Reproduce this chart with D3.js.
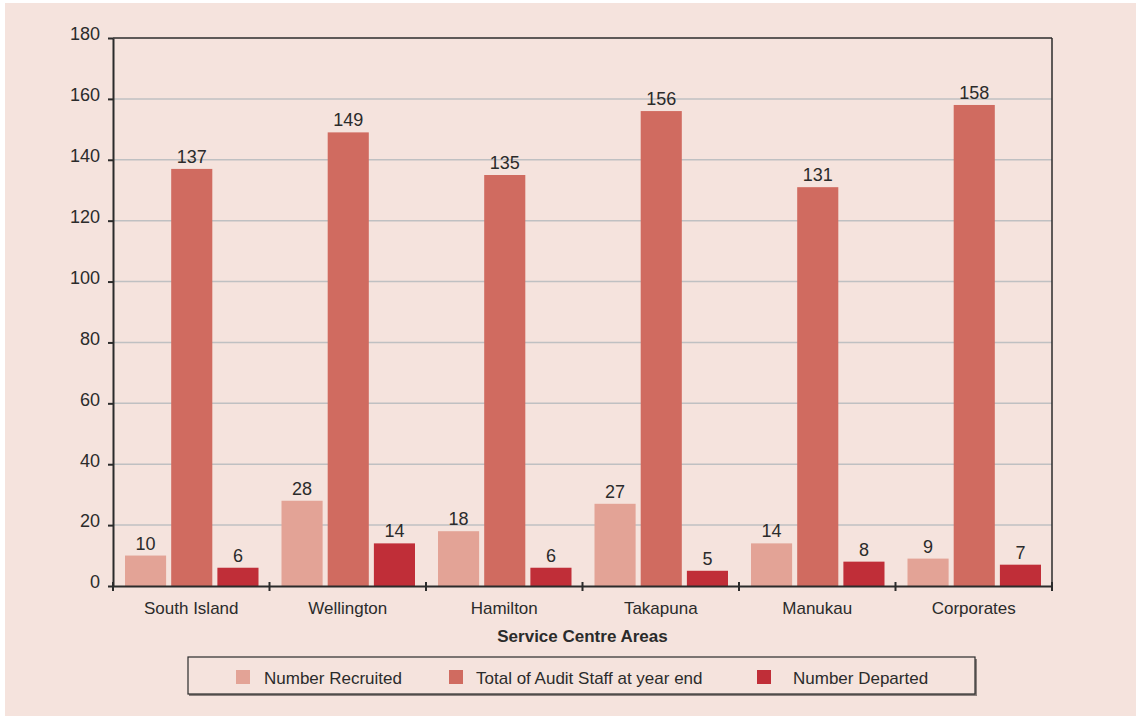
<!DOCTYPE html>
<html><head><meta charset="utf-8">
<script src="https://cdn.jsdelivr.net/npm/d3@7"></script>
<style>body{margin:0;background:#fff}svg{display:block}text{font-family:"Liberation Sans",Arial,sans-serif;fill:#2b2b2b}</style>
</head><body><svg id="c" width="1136" height="718"></svg>
<script>
const categories = ["South Island","Wellington","Hamilton","Takapuna","Manukau","Corporates"];
const seriesNames = ["Number Recruited","Total of Audit Staff at year end","Number Departed"];
const recruited = [10,28,18,27,14,9];
const totalStaff = [137,149,135,156,131,158];
const departed = [6,14,6,5,8,7];
const yTicks = [0,20,40,60,80,100,120,140,160,180];
const colors = ["#e3a396","#d06b60","#c02e38"];
const series = [recruited,totalStaff,departed];

const svg = d3.select("#c");
svg.append("rect").attr("x",5).attr("y",3).attr("width",1131).attr("height",713).attr("fill","#f5e3dd");

const L=113,R=1052,T=38,B=586;
const x = d3.scaleBand().domain(categories).range([L,R]).paddingInner(0).paddingOuter(0);
const xs = d3.scaleBand().domain(d3.range(3)).range([12,x.bandwidth()-11]).paddingInner(0.11);
const y = d3.scaleLinear().domain([0,180]).range([B,T]);

// grid
svg.append("g").selectAll("line").data(yTicks.filter(d=>d>0&&d<180)).join("line")
  .attr("x1",L).attr("x2",R).attr("y1",d=>y(d)).attr("y2",d=>y(d))
  .attr("stroke","#bfc0c2").attr("stroke-width",1.5);

// bars
const g = svg.append("g");
series.forEach((s,si)=>{
  g.selectAll(null).data(s).join("rect")
    .attr("x",(d,i)=>x(categories[i])+xs(si)).attr("width",xs.bandwidth())
    .attr("y",d=>y(d)).attr("height",d=>B-y(d)).attr("fill",colors[si]);
  g.selectAll(null).data(s).join("text")
    .attr("x",(d,i)=>x(categories[i])+xs(si)+xs.bandwidth()/2)
    .attr("y",d=>y(d)-6).attr("text-anchor","middle").attr("font-size",18).text(d=>d);
});

// frame
svg.append("line").attr("x1",L).attr("x2",R).attr("y1",T).attr("y2",T).attr("stroke","#2b2b2b").attr("stroke-width",1.5);
svg.append("line").attr("x1",R).attr("x2",R).attr("y1",T).attr("y2",B).attr("stroke","#2b2b2b").attr("stroke-width",1.5);

// y axis
const ya = svg.append("g").attr("transform",`translate(${L},0)`)
  .call(d3.axisLeft(y).tickValues(yTicks).tickSize(5).tickPadding(8).tickSizeOuter(0));
ya.select(".domain").attr("stroke","#2b2b2b").attr("stroke-width",2);
ya.selectAll(".tick line").attr("stroke","#2b2b2b").attr("stroke-width",2);
ya.selectAll(".tick text").attr("font-size",18).attr("fill","#2b2b2b").attr("font-family","Liberation Sans, Arial, sans-serif").attr("dy","0.1em");

// x axis
const xa = svg.append("g").attr("transform",`translate(0,${B})`)
  .call(d3.axisBottom(x).tickSize(0).tickPadding(16));
xa.select(".domain").attr("stroke","#2b2b2b").attr("stroke-width",2);
xa.selectAll(".tick text").attr("font-size",17).attr("fill","#2b2b2b").attr("font-family","Liberation Sans, Arial, sans-serif");
const bounds = categories.map(c=>x(c)).concat([R]);
svg.append("g").selectAll("line").data(bounds).join("line")
  .attr("x1",d=>d).attr("x2",d=>d).attr("y1",B-4).attr("y2",B+5).attr("stroke","#2b2b2b").attr("stroke-width",2);

svg.append("text").attr("x",(L+R)/2).attr("y",642).attr("text-anchor","middle")
  .attr("font-size",17).attr("font-weight","bold").text("Service Centre Areas");

// legend
svg.append("rect").attr("x",189).attr("y",659).attr("width",788).attr("height",37).attr("fill","#8a7f7c");
svg.append("rect").attr("x",188).attr("y",657).attr("width",787).attr("height",37).attr("fill","#f5e3dd").attr("stroke","#2b2b2b").attr("stroke-width",1.2);
const legX = [236,449,757], txtX=[264,476,793];
seriesNames.forEach((n,i)=>{
  svg.append("rect").attr("x",legX[i]).attr("y",670).attr("width",14).attr("height",14).attr("fill",colors[i]);
  svg.append("text").attr("x",txtX[i]).attr("y",684).attr("font-size",17).text(n);
});
</script></body></html>
